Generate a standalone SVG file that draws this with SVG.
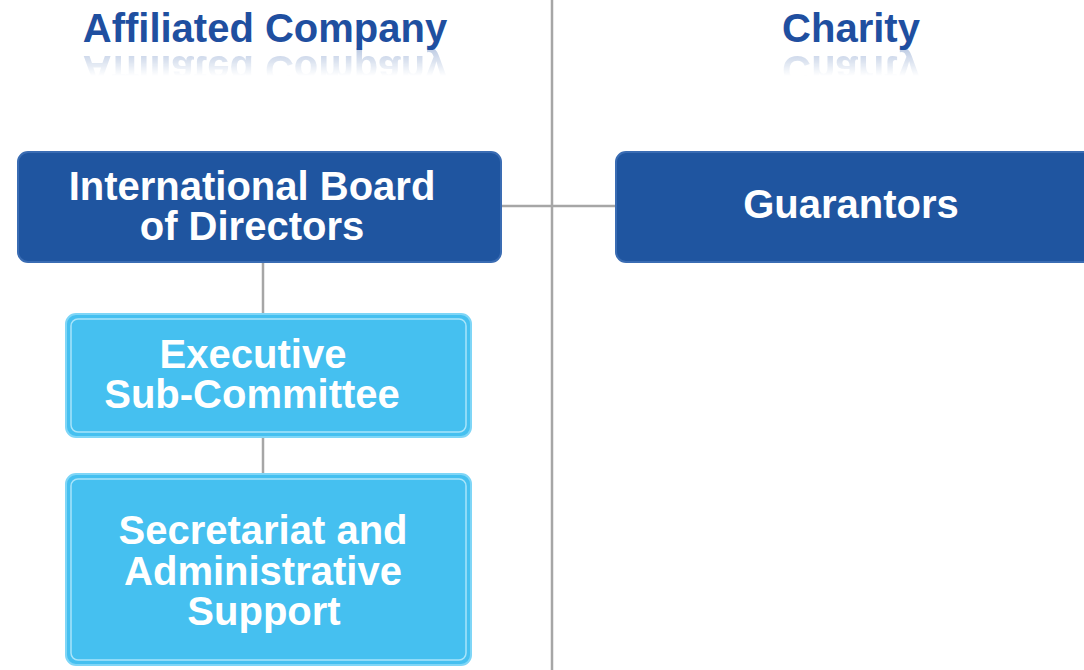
<svg xmlns="http://www.w3.org/2000/svg" width="1084" height="670" viewBox="0 0 1084 670">
<defs>
<linearGradient id="fade" x1="0" y1="0" x2="0" y2="1">
<stop offset="0" stop-color="#fff" stop-opacity="0.5"/>
<stop offset="1" stop-color="#fff" stop-opacity="0"/>
</linearGradient>
<mask id="refl" maskUnits="userSpaceOnUse" x="0" y="0" width="1084" height="100">
<rect x="0" y="48" width="1084" height="28" fill="url(#fade)"/>
</mask>
</defs>
<style>
.title{font-family:"Liberation Sans",Arial,sans-serif;font-weight:bold;font-size:40px;fill:#1f4fa0;text-anchor:middle}
.dark{fill:#1f55a0;stroke:#3a6cb3;stroke-width:2}
.light{fill:#45c0f0;stroke:#7fd6f7;stroke-width:2}
.inner{fill:none;stroke:#a8e4fa;stroke-width:1.5}
.lbl{font-family:"Liberation Sans",Arial,sans-serif;font-weight:bold;font-size:40px;fill:#fff;text-anchor:middle}
.conn{stroke:#a6a6a6;stroke-width:2.5;fill:none}
</style>
<rect width="1084" height="670" fill="#fff"/>
<g id="titles">
<text class="title" x="265" y="42">Affiliated Company</text>
<text class="title" x="851" y="42">Charity</text>
<g mask="url(#refl)">
<g transform="translate(0,98) scale(1,-1)" opacity="0.6">
<text class="title" x="265" y="42">Affiliated Company</text>
<text class="title" x="851" y="42">Charity</text>
</g>
</g>
</g>
<g id="connectors">
<line class="conn" x1="552" y1="0" x2="552" y2="670"/>
<line class="conn" x1="501" y1="206" x2="615" y2="206"/>
<line class="conn" x1="263" y1="262" x2="263" y2="315"/>
<line class="conn" x1="263" y1="437" x2="263" y2="475"/>
</g>
<g id="board">
<rect class="dark" x="18" y="152" width="483" height="110" rx="10"/>
<text class="lbl" x="252" y="200">International Board</text>
<text class="lbl" x="252" y="240">of Directors</text>
</g>
<g id="guarantors">
<rect class="dark" x="616" y="152" width="480" height="110" rx="10"/>
<text class="lbl" x="851" y="218">Guarantors</text>
</g>
<g id="executive">
<rect class="light" x="66" y="314" width="405" height="123" rx="10"/>
<rect class="inner" x="71" y="319" width="395" height="113" rx="7"/>
<text class="lbl" x="253" y="368">Executive</text>
<text class="lbl" x="252" y="408">Sub-Committee</text>
</g>
<g id="secretariat">
<rect class="light" x="66" y="474" width="405" height="191" rx="10"/>
<rect class="inner" x="71" y="479" width="395" height="181" rx="7"/>
<text class="lbl" x="263" y="544">Secretariat and</text>
<text class="lbl" x="263" y="585">Administrative</text>
<text class="lbl" x="264" y="625">Support</text>
</g>
</svg>
